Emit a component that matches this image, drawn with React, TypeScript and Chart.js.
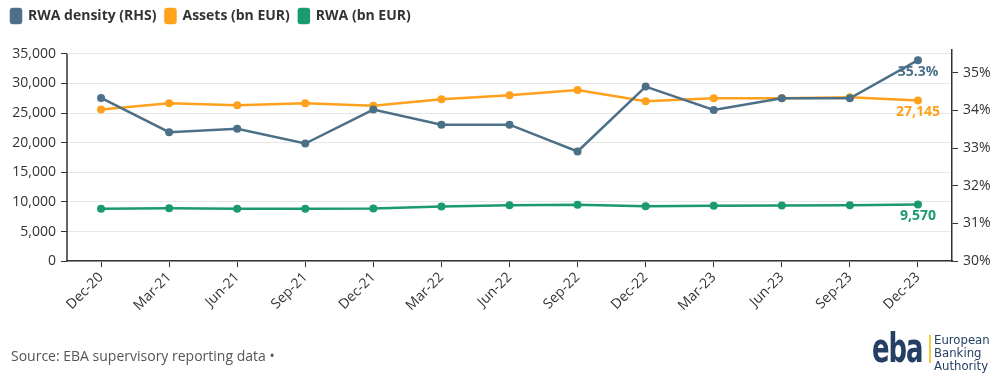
import React, { useEffect, useRef } from "react";
import { Chart, registerables } from "chart.js";

Chart.register(...registerables);

const categories = ["Dec-20", "Mar-21", "Jun-21", "Sep-21", "Dec-21", "Mar-22", "Jun-22", "Sep-22", "Dec-22", "Mar-23", "Jun-23", "Sep-23", "Dec-23"];
const rwaDensity = [34.33, 33.42, 33.51, 33.12, 34.02, 33.62, 33.62, 32.91, 34.63, 34.01, 34.32, 34.32, 35.33];
const assets = [25600, 26675, 26335, 26675, 26220, 27350, 28030, 28880, 27010, 27520, 27520, 27690, 27145];
const rwa = [8835, 8950, 8835, 8835, 8890, 9230, 9460, 9515, 9290, 9345, 9400, 9460, 9570];

const leftTicks = [0, 5000, 10000, 15000, 20000, 25000, 30000, 35000];
const rightTicks = [30, 31, 32, 33, 34, 35];

const BLUE = "#4b7088";
const ORANGE = "#ffa11d";
const GREEN = "#1a9a6e";
const AXIS = "#333333";
const FONT = "'Open Sans', 'Noto Sans', sans-serif";
const NAVY = "#243f63";

const fmtThousands = (v: number) => Math.round(v).toLocaleString("en-US");

const lastLabelPlugin = {
  id: "lastLabels",
  afterDatasetsDraw(chart: any) {
    const ctx = chart.ctx;
    ctx.save();
    ctx.font = `bold 14px ${FONT}`;
    ctx.textAlign = "center";
    ctx.textBaseline = "middle";
    chart.data.datasets.forEach((ds: any, i: number) => {
      const meta = chart.getDatasetMeta(i);
      const n = ds.data.length - 1;
      const pt = meta.data[n];
      if (!pt) return;
      const v = ds.data[n];
      const txt = i === 0 ? v.toFixed(1) + "%" : fmtThousands(v);
      ctx.fillStyle = ds.borderColor;
      ctx.fillText(txt, pt.x, pt.y + 12);
    });
    ctx.restore();
  },
};

const leftAxisLinePlugin = {
  id: "leftAxisLine",
  afterDraw(chart: any) {
    const y = chart.scales.y;
    const ctx = chart.ctx;
    const top = y.getPixelForValue(leftTicks[leftTicks.length - 1]);
    ctx.save();
    ctx.strokeStyle = AXIS;
    ctx.lineWidth = 1.5;
    ctx.beginPath();
    ctx.moveTo(chart.chartArea.left, top);
    ctx.lineTo(chart.chartArea.left, chart.chartArea.bottom);
    ctx.stroke();
    ctx.restore();
  },
};

const legendPlacePlugin = {
  id: "legendPlace",
  beforeLayout(chart: any) {
    const legend = chart.legend;
    if (legend && !legend.__patched) {
      const fit = legend.fit;
      legend.fit = function () {
        fit.call(this);
        this.height = 50;
      };
      legend.__patched = true;
    }
  },
  afterLayout(chart: any) {
    if (chart.legend) {
      chart.legend.left = 2;
    }
  },
};

function ChartView() {
  const ref = useRef<HTMLCanvasElement>(null);
  useEffect(() => {
    if (!ref.current) return;
    const chart = new Chart(ref.current, {
      type: "line",
      data: {
        labels: categories,
        datasets: [
          {
            label: "RWA density (RHS)",
            data: rwaDensity,
            yAxisID: "y1",
            borderColor: BLUE,
            backgroundColor: BLUE,
            borderWidth: 2.5,
            pointRadius: 4,
            pointHoverRadius: 4,
            pointBackgroundColor: BLUE,
            pointBorderWidth: 0,
            tension: 0,
          },
          {
            label: "Assets (bn EUR)",
            data: assets,
            yAxisID: "y",
            borderColor: ORANGE,
            backgroundColor: ORANGE,
            borderWidth: 2.5,
            pointRadius: 4,
            pointHoverRadius: 4,
            pointBackgroundColor: ORANGE,
            pointBorderWidth: 0,
            tension: 0,
          },
          {
            label: "RWA (bn EUR)",
            data: rwa,
            yAxisID: "y",
            borderColor: GREEN,
            backgroundColor: GREEN,
            borderWidth: 2.5,
            pointRadius: 4,
            pointHoverRadius: 4,
            pointBackgroundColor: GREEN,
            pointBorderWidth: 0,
            tension: 0,
          },
        ],
      },
      options: {
        animation: false,
        responsive: false,
        maintainAspectRatio: false,
        layout: { padding: { left: 11, right: 0, top: 0, bottom: 66 } },
        plugins: {
          tooltip: { enabled: false },
          legend: {
            position: "top",
            align: "start",
            labels: {
              boxWidth: 10,
              boxHeight: 14,
              useBorderRadius: true,
              borderRadius: 2,
              padding: 9,
              color: "#333333",
              font: { family: FONT, size: 14, weight: "bold" },
            },
          },
        },
        scales: {
          x: {
            offset: true,
            grid: {
              offset: false,
              drawOnChartArea: false,
              drawTicks: true,
              tickLength: 6,
              tickColor: AXIS,
            },
            border: { color: AXIS, width: 1.5 },
            ticks: {
              color: "#333333",
              font: { family: FONT, size: 14 },
              maxRotation: 45,
              minRotation: 45,
              padding: 2,
              autoSkip: false,
            },
          },
          y: {
            position: "left",
            min: 0,
            max: 35650,
            afterBuildTicks: (axis: any) => {
              axis.ticks = leftTicks.map((v) => ({ value: v }));
            },
            afterFit: (axis: any) => {
              axis.width = 56;
            },
            grid: {
              color: "#e6e6e6",
              lineWidth: 1,
              tickLength: 6,
              tickColor: AXIS,
            },
            border: { display: false },
            ticks: {
              color: "#333333",
              font: { family: FONT, size: 14 },
              padding: 5,
              callback: (v: any) => fmtThousands(Number(v)),
            },
          },
          y1: {
            position: "right",
            min: 30,
            max: 35.6,
            afterBuildTicks: (axis: any) => {
              axis.ticks = rightTicks.map((v) => ({ value: v }));
            },
            afterFit: (axis: any) => {
              axis.width = 48;
            },
            grid: {
              drawOnChartArea: false,
              tickLength: 6,
              tickColor: AXIS,
            },
            border: { color: AXIS, width: 1.5 },
            ticks: {
              color: "#333333",
              font: { family: FONT, size: 14 },
              padding: 5,
              callback: (v: any) => Number(v).toFixed(0) + "%",
            },
          },
        },
      },
      plugins: [lastLabelPlugin, legendPlacePlugin, leftAxisLinePlugin],
    } as any);
    return () => chart.destroy();
  }, []);
  return <canvas ref={ref} width={1000} height={382} style={{ display: "block", width: 1000, height: 382 }} />;
}

export default function App() {
  return (
    <div style={{ position: "absolute", left: 0, top: 0, width: 1000, height: 382, background: "#ffffff", overflow: "hidden" }}>
      <ChartView />
      <div
        style={{
          position: "absolute",
          left: 11,
          top: 346,
          fontFamily: FONT,
          fontSize: 14,
          lineHeight: "20px",
          color: "#555555",
          whiteSpace: "nowrap",
        }}
      >
        Source: EBA supervisory reporting data •
      </div>
      <div
        style={{
          position: "absolute",
          left: 872,
          top: 326,
          fontFamily: "'DejaVu Sans Condensed', 'Liberation Sans Narrow', sans-serif",
          fontWeight: "bold",
          fontSize: 40,
          lineHeight: "44px",
          color: NAVY,
          letterSpacing: -1.5,
          transform: "scaleX(0.72)",
          transformOrigin: "left top",
          whiteSpace: "nowrap",
        }}
      >
        eba
      </div>
      <div style={{ position: "absolute", left: 929, top: 335, width: 2, height: 28, background: "#f3cf45" }} />
      <div
        style={{
          position: "absolute",
          left: 934,
          top: 333,
          fontFamily: "'DejaVu Sans Condensed', 'Noto Sans', sans-serif",
          fontSize: 13,
          lineHeight: "13px",
          color: NAVY,
          whiteSpace: "nowrap",
        }}
      >
        European
        <br />
        Banking
        <br />
        Authority
      </div>
    </div>
  );
}
